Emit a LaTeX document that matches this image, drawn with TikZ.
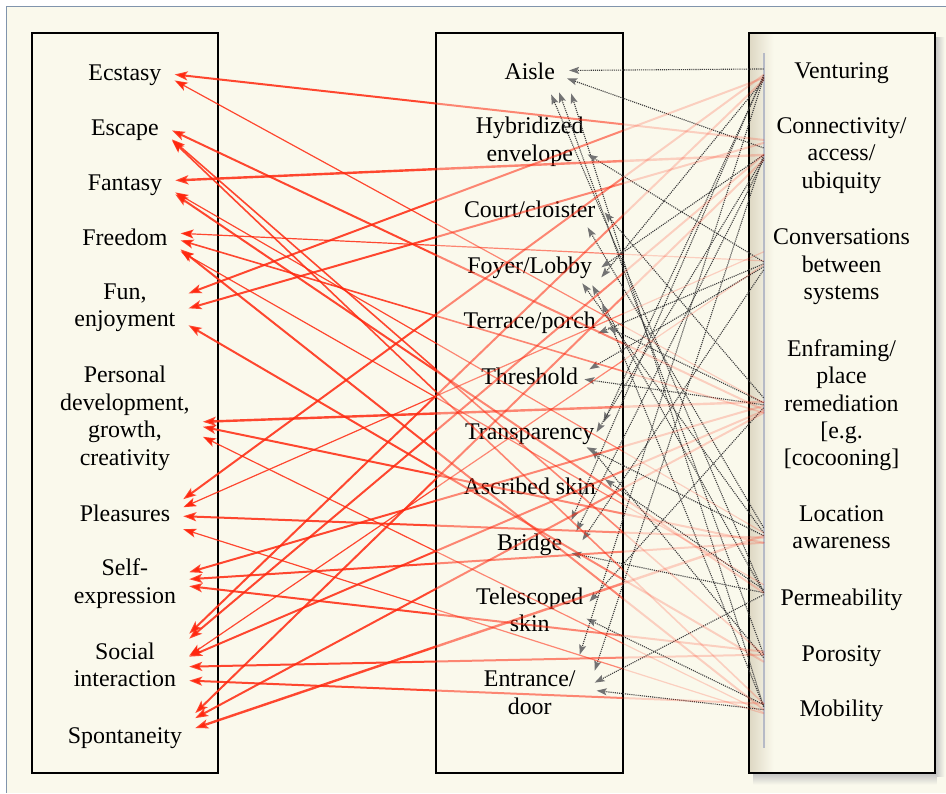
\documentclass[tikz,border=0pt]{standalone}
\usepackage{fontspec}
\setmainfont{Liberation Serif}
\usetikzlibrary{arrows.meta,positioning}

\definecolor{paper}{RGB}{250,249,236}
\definecolor{linkred}{RGB}{255,40,15}
\definecolor{linkgray}{RGB}{60,60,60}
\definecolor{tipgray}{RGB}{115,115,115}
\definecolor{frameblue}{RGB}{128,148,172}
\definecolor{railgray}{RGB}{182,186,198}
\definecolor{shadowtan}{RGB}{222,216,196}

\newcommand{\itemfont}{\fontsize{24}{27.5}\selectfont}

\tikzset{
  item/.style={align=center, font=\itemfont, inner ysep=0pt,
    execute at begin node=\strut, execute at end node=\strut},
  goal/.style={item, inner xsep=13bp},
  form/.style={item, inner xsep=7bp},
  quality/.style={item, inner xsep=4bp},
  panel/.style={draw=black, line width=2bp},
  redlink/.style={linkred, line cap=round},
  graylink/.style={linkgray, densely dotted, line width=1.1bp,
    -{Stealth[length=10bp,width=7bp,inset=2bp,color=tipgray,fill=tipgray]}},
}

% quality -> goal links, drawn once per band so they fade out to the right
\newcommand{\goallinks}[1]{%
  \foreach \src/\sy/\dst/\dy/\lw in {
      Con/-10/ecs/-1/2bp, Enf/0/ecs/5/1.2bp,
      Enf/7/esc/0/2bp, Mob/-3/esc/10/1.6bp, Por/0/esc/9/1.6bp,
      Con/5/fan/-5/2.4bp, Loc/0/fan/7/1.2bp, Per/0/fan/9/2bp,
      Cnv/-1/frd/-7/1.2bp, Enf/10/frd/0/1.6bp, Per/-8/frd/11/1.2bp, Mob/3/frd/9/2bp,
      Ven/3/fun/-16/2bp, Con/-7/fun/-1/2bp, Por/7/fun/16/2bp,
      Enf/-1/pdg/2/2.4bp, Loc/10/pdg/7/2bp, Mob/6/pdg/17/1.2bp,
      Ven/0/plc/-17/2bp, Cnv/-10/plc/-9/1.2bp, Loc/5/plc/0/2bp, Mob/7/plc/13/1.2bp,
      Enf/3/slf/-13/2bp, Loc/10/slf/-6/2bp, Por/-3/slf/1/2bp,
      Ven/5/soc/-35/2bp, Con/5/soc/-30/2bp, Cnv/3/soc/-13/1.2bp,
      Enf/8/soc/-12/2bp, Por/0/soc/-2/2bp, Mob/-3/soc/12/2bp,
      Con/10/spo/-25/2bp, Enf/10/spo/-20/2bp, Loc/3/spo/-10/2.4bp}
    \draw[redlink,#1,line width=\lw] ([shift={(0,\sy)}]p\src) -- ([shift={(0,\dy)}]\dst.east);%
}

\begin{document}
\begin{tikzpicture}[x=1bp,y=-1bp]
  % page
  \fill[white] (0,0) rectangle (946,793);
  \fill[paper] (7,7) rectangle (946,793);
  \draw[frameblue,line width=1bp] (7,793) -- (7,7) -- (946,7);

  % shadow of the right panel
  \shade[left color=black!25, right color=paper] (935,38) rectangle (945,777);
  \shade[top color=black!25, bottom color=paper] (754,773) rectangle (937,785);
  \shade[left color=shadowtan, right color=paper] (750,34) rectangle (774,772);

  \draw[panel] (32,33) rectangle (218,773);
  \draw[panel] (436,33) rectangle (623,773);
  \draw[panel] (749,33) rectangle (935,773);
  \draw[railgray,line width=2bp] (764,53) -- (764,748);

  % goals
  \node[goal] (ecs) at (125,75.5) {Ecstasy};
  \node[goal] (esc) at (125,130.5) {Escape};
  \node[goal] (fan) at (125,185.5) {Fantasy};
  \node[goal] (frd) at (125,240.5) {Freedom};
  \node[goal] (fun) at (125,309.5) {Fun,\\enjoyment};
  \node[goal] (pdg) at (125,420) {Personal\\development,\\growth,\\creativity};
  \node[goal] (plc) at (125,516.5) {Pleasures};
  \node[goal] (slf) at (125,585.5) {Self-\\expression};
  \node[goal] (soc) at (125,669) {Social\\interaction};
  \node[goal] (spo) at (125,738.5) {Spontaneity};

  % forms
  \node[form] (ais) at (530,74.5) {Aisle};
  \node[form] (hyb) at (530,143.5) {Hybridized\\envelope};
  \node[form] (crt) at (530,212.5) {Court/cloister};
  \node[form] (foy) at (530,268.5) {Foyer/Lobby};
  \node[form] (ter) at (530,323.5) {Terrace/porch};
  \node[form] (thr) at (530,379.5) {Threshold};
  \node[form] (trn) at (530,434.5) {Transparency};
  \node[form] (asc) at (530,489.5) {Ascribed skin};
  \node[form] (brg) at (530,545.5) {Bridge};
  \node[form] (tel) at (530,614) {Telescoped\\skin};
  \node[form] (ent) at (530,697) {Entrance/\\door};

  % qualities
  \node[quality] (ven) at (842,73.5) {Venturing};
  \node[quality] (con) at (842,157) {Connectivity/\\access/\\ubiquity};
  \node[quality] (cnv) at (842,268.5) {Conversations\\between\\systems};
  \node[quality] (enf) at (842,407) {Enframing/\\place\\remediation\\{}[e.g.\\{}[cocooning]};
  \node[quality] (loc) at (842,531.5) {Location\\awareness};
  \node[quality] (per) at (842,600.5) {Permeability};
  \node[quality] (por) at (842,656.5) {Porosity};
  \node[quality] (mob) at (842,711.5) {Mobility};

  % ports on the rail
  \coordinate (pVen) at (764,75);
  \coordinate (pCon) at (764,150);
  \coordinate (pCnv) at (764,262);
  \coordinate (pEnf) at (764,403);
  \coordinate (pLoc) at (764,533);
  \coordinate (pPer) at (764,593);
  \coordinate (pPor) at (764,655);
  \coordinate (pMob) at (764,707);

  % quality -> form
  \foreach \src/\sy/\dst/\dy/\dx in {
      Ven/-6/ais/-4/7, Con/-2/ais/4/5, Per/0/ais/20/-11, Por/0/ais/18/-3, Mob/0/ais/19/9,
      Cnv/0/hyb/11/-3,
      Enf/-5/crt/0/2, Loc/-5/crt/15/-15,
      Con/5/foy/-1/2, Ven/5/foy/9/2, Loc/0/foy/15/-17, Per/0/foy/17/-7, Mob/0/foy/35/3,
      Cnv/2/ter/10/-5, Enf/0/ter/4/5,
      Cnv/5/thr/-10/4, Enf/2/thr/0/-1,
      Ven/2/trn/-12/2, Con/8/trn/-2/-5, Loc/3/trn/13/-15, Por/3/trn/15/-10,
      Per/-3/asc/-10/2,
      Ven/0/brg/-25/2, Con/10/brg/-14/7, Cnv/8/brg/-5/13, Per/0/brg/8/2,
      Enf/5/tel/-12/-1, Mob/-2/tel/5/-4,
      Ven/3/ent/-42/-3, Con/5/ent/-26/12, Per/2/ent/-14/12, Mob/3/ent/-6/14}
    \draw[graylink] ([shift={(0,\sy)}]p\src) -- ([shift={(\dx,\dy)}]\dst.east);

  % quality -> goal
  \begin{scope}
    \clip (623,0) rectangle (946,793);
    \goallinks{draw opacity=0.2}
  \end{scope}
  \begin{scope}
    \clip (436,0) rectangle (623,793);
    \goallinks{draw opacity=0.55}
  \end{scope}
  \begin{scope}
    \clip (0,0) rectangle (436,793);
    \goallinks{draw opacity=0.85,-{Stealth[length=13bp,width=9bp,inset=3bp]}}
  \end{scope}
\end{tikzpicture}
\end{document}
